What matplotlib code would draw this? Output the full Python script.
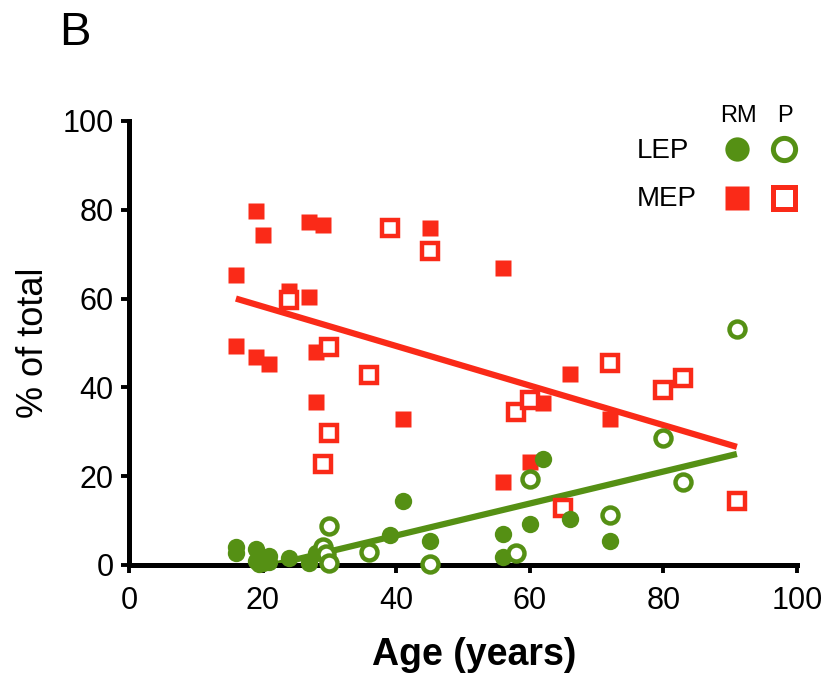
import matplotlib
matplotlib.use("Agg")
import matplotlib.pyplot as plt
from matplotlib.lines import Line2D

plt.rcParams['font.family'] = ['Liberation Sans', 'DejaVu Sans']

GREEN = '#559014'
RED = '#FA2A18'

# LEP, RM (filled circles)
lep_rm_age = [16, 16, 19, 19, 19.5, 20, 21, 21, 24, 27, 28, 39, 41, 45, 56, 56, 60, 62, 66, 72]
lep_rm_pct = [4.0, 2.8, 3.6, 1.0, 0.3, 0.5, 2.0, 0.6, 1.5, 0.4, 2.7, 6.8, 14.3, 5.3, 7.0, 1.9, 9.2, 23.8, 10.3, 5.3]

# LEP, P (open circles)
lep_p_age = [29, 29.5, 30, 30, 36, 45, 58, 60, 72, 80, 83, 91]
lep_p_pct = [4.1, 2.5, 0.4, 8.8, 3.0, 0.2, 2.6, 19.4, 11.3, 28.5, 18.8, 53.1]

# MEP, RM (filled squares)
mep_rm_age = [16, 19, 20, 16, 19, 21, 24, 27, 27, 29, 28, 28, 41, 45, 56, 56, 60, 62, 66, 72]
mep_rm_pct = [65.3, 79.7, 74.3, 49.4, 46.9, 45.2, 61.6, 60.4, 77.3, 76.6, 47.9, 36.8, 32.8, 76.0, 66.8, 18.8, 23.3, 36.4, 43.0, 32.8]

# MEP, P (open squares)
mep_p_age = [24, 30, 36, 30, 29, 39, 45, 58, 60, 65, 72, 80, 83, 91]
mep_p_pct = [59.7, 49.2, 42.8, 29.7, 22.7, 76.0, 70.8, 34.4, 37.2, 12.8, 45.4, 39.5, 42.0, 14.3]

# regression lines (end points)
mep_fit_age = [16, 91]
mep_fit_pct = [60.0, 26.6]
lep_fit_age = [16, 91]
lep_fit_pct = [-2.0, 25.0]

x_ticks = [0, 20, 40, 60, 80, 100]
y_ticks = [0, 20, 40, 60, 80, 100]

fig = plt.figure(figsize=(8.24, 6.75), dpi=100)
ax = fig.add_axes([0.1566, 0.1630, 0.8106, 0.6578])

ms_fill = 12
ms_open = 11.5
mew = 3.2

ax.plot(mep_fit_age, mep_fit_pct, color=RED, lw=4.5, solid_capstyle='butt', zorder=2)
ax.plot(lep_fit_age, lep_fit_pct, color=GREEN, lw=4.5, solid_capstyle='butt', zorder=2)

ax.plot(mep_rm_age, mep_rm_pct, 's', color=RED, ms=ms_fill, mec='none', clip_on=False, zorder=3)
ax.plot(mep_p_age, mep_p_pct, 's', mfc='white', mec=RED, mew=mew, ms=ms_open, clip_on=False, zorder=3)
ax.plot(lep_rm_age, lep_rm_pct, 'o', color=GREEN, ms=ms_fill + 0.5, mec='none', clip_on=False, zorder=4)
ax.plot(lep_p_age, lep_p_pct, 'o', mfc='white', mec=GREEN, mew=mew, ms=ms_open, clip_on=False, zorder=4)

ax.set_xlim(0, 100)
ax.set_ylim(0, 100)
ax.set_xticks(x_ticks)
ax.set_yticks(y_ticks)
ax.set_xticklabels([str(t) for t in x_ticks])
ax.set_yticklabels([str(t) for t in y_ticks])

for s in ['top', 'right']:
    ax.spines[s].set_visible(False)
for s in ['left', 'bottom']:
    ax.spines[s].set_linewidth(3.6)
    ax.spines[s].set_capstyle('projecting')
ax.tick_params(axis='both', direction='out', length=6, width=2.8, labelsize=22, pad=5, color='black')
ax.tick_params(axis='x', pad=9)

ax.set_xlabel('Age (years)', fontsize=27, fontweight='bold')
ax.xaxis.set_label_coords(0.516, -0.162)
ax.set_ylabel('% of total', fontsize=26, labelpad=8)

fig.text(59 / 824, 1 - 33 / 675, 'B', fontsize=34, ha='left', va='center')

# legend
fig.text(738 / 824, 1 - 116 / 675, 'RM', fontsize=17, ha='center', va='center')
fig.text(785 / 824, 1 - 116 / 675, 'P', fontsize=17, ha='center', va='center')
fig.text(637 / 824, 1 - 151 / 675, 'LEP', fontsize=20, ha='left', va='center')
fig.text(637 / 824, 1 - 199 / 675, 'MEP', fontsize=20, ha='left', va='center')
lg_ms = 17
fig.add_artist(Line2D([737 / 824], [1 - 149 / 675], marker='o', color=GREEN, ms=lg_ms + 0.5, mec='none', transform=fig.transFigure))
fig.add_artist(Line2D([784 / 824], [1 - 149 / 675], marker='o', mfc='white', mec=GREEN, mew=3.6, ms=lg_ms - 1, transform=fig.transFigure))
fig.add_artist(Line2D([737 / 824], [1 - 198 / 675], marker='s', color=RED, ms=lg_ms, mec='none', transform=fig.transFigure))
fig.add_artist(Line2D([784 / 824], [1 - 198 / 675], marker='s', mfc='white', mec=RED, mew=3.6, ms=lg_ms - 1, transform=fig.transFigure))

fig.savefig('out.png', dpi=100)
